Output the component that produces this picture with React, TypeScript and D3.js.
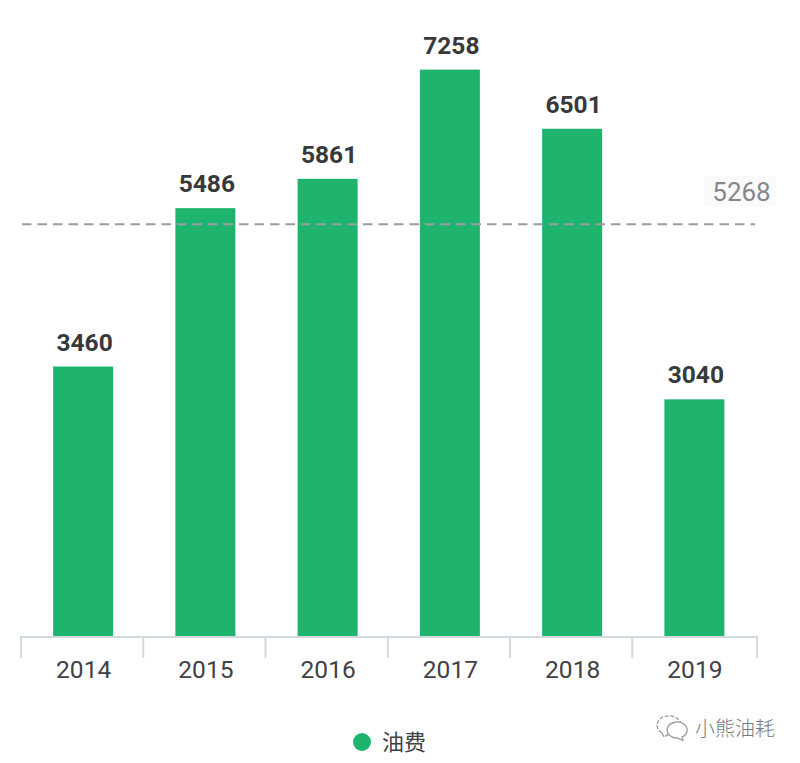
import * as d3 from 'd3';
import React, { useEffect, useRef } from 'react';

const years = ['2014', '2015', '2016', '2017', '2018', '2019'];
const fuelCost = [3460, 5486, 5861, 7258, 6501, 3040];
const averageCost = 5268;
const seriesName = '油费';
const watermark = '小熊油耗';

const font = 'Roboto, "Noto Sans CJK SC", sans-serif';
const cjkFont = '"Noto Sans CJK SC", sans-serif';

const App = () => {
	const svgRef = useRef<SVGSVGElement>(null);

	useEffect(() => {
		const svg = d3.select(svgRef.current);
		const left = 21, right = 754.5, axisEnd = 757, bottom = 637;

		const x = d3.scaleBand().domain(years).range([left, right]);
		const y = d3.scaleLinear().domain([0, 7258]).range([bottom, 69.6]);
		const barWidth = 60;
		const center = (i: number) => x(years[i]) + x.bandwidth() / 2 + 1;

		// bars
		svg.append('g')
			.selectAll('rect')
			.data(fuelCost)
			.join('rect')
			.attr('x', (d, i) => center(i) - barWidth / 2)
			.attr('y', (d) => y(d))
			.attr('width', barWidth)
			.attr('height', (d) => bottom - y(d))
			.attr('fill', '#1eb46e');

		// value labels
		svg.append('g')
			.selectAll('text')
			.data(fuelCost)
			.join('text')
			.attr('x', (d, i) => center(i) + 1.5)
			.attr('y', (d) => y(d) - 16)
			.attr('text-anchor', 'middle')
			.style('font-family', font)
			.style('font-size', '24.5px')
			.style('font-weight', 'bold')
			.attr('fill', '#37393b')
			.text((d) => d);

		// x axis
		const axis = svg.append('g')
			.attr('transform', `translate(1.5,${bottom})`)
			.call(d3.axisBottom(x).tickSize(0).tickPadding(24));
		axis.select('.domain').remove();
		axis.selectAll('text')
			.style('font-family', font)
			.style('font-size', '24.5px')
			.attr('fill', '#3f4144');

		svg.append('line')
			.attr('x1', left - 1)
			.attr('x2', axisEnd + 1)
			.attr('y1', bottom)
			.attr('y2', bottom)
			.attr('stroke', '#d3d9e0')
			.attr('stroke-width', 2);

		// separators between years
		const edges = [...years.map((d) => x(d)), axisEnd];
		svg.append('g')
			.selectAll('line')
			.data(edges)
			.join('line')
			.attr('x1', (d) => d)
			.attr('x2', (d) => d)
			.attr('y1', bottom)
			.attr('y2', bottom + 21)
			.attr('stroke', '#d3d9e0')
			.attr('stroke-width', 2);

		// average line
		svg.append('line')
			.attr('x1', left + 1)
			.attr('x2', 755)
			.attr('y1', y(averageCost) - 1)
			.attr('y2', y(averageCost) - 1)
			.attr('stroke', '#9a9c9e')
			.attr('stroke-width', 2)
			.attr('stroke-dasharray', '9.5 6');

		svg.append('rect')
			.attr('x', 704)
			.attr('y', 176)
			.attr('width', 72)
			.attr('height', 31)
			.attr('rx', 5)
			.attr('fill', '#fafafb');
		svg.append('text')
			.attr('x', 741.5)
			.attr('y', 201)
			.attr('text-anchor', 'middle')
			.style('font-family', font)
			.style('font-size', '26px')
			.attr('fill', '#85878a')
			.text(averageCost);

		// legend
		svg.append('circle')
			.attr('cx', 362)
			.attr('cy', 742)
			.attr('r', 9)
			.attr('fill', '#1eb46e');
		svg.append('text')
			.attr('x', 382)
			.attr('y', 750)
			.style('font-family', cjkFont)
			.style('font-size', '22px')
			.attr('fill', '#3f4144')
			.text(seriesName);

		// watermark
		const mark = svg.append('g').attr('fill', '#ffffff').attr('stroke', '#9a9c9f').attr('stroke-width', 1.3);
		mark.append('path').attr('d', 'M 662 733 a 12 9.5 0 1 1 14 0 l -7 1 l -5 3 z').attr('stroke-dasharray', '4 1.5');
		mark.append('path').attr('d', 'M 682 737 a 10 8 0 1 0 -5 1 l 6 2.5 z');
		svg.append('text')
			.attr('x', 695)
			.attr('y', 736)
			.style('font-family', cjkFont)
			.style('font-size', '20px')
			.style('font-weight', 300)
			.attr('fill', '#77797c')
			.text(watermark);

		return () => {
			svg.selectAll('*').remove();
		};
	}, []);

	return (
		<svg
			ref={svgRef}
			width={800}
			height={763}
			style={{ position: 'absolute', left: 0, top: 0, background: '#ffffff' }}
		/>
	);
};

export default App;
